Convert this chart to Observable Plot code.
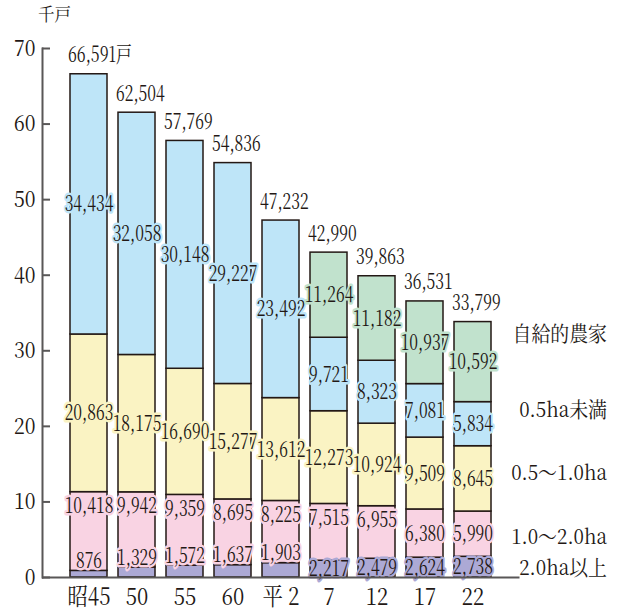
<!DOCTYPE html>
<html><head><meta charset="utf-8">
<script src="https://cdn.jsdelivr.net/npm/d3@7"></script>
<script src="https://cdn.jsdelivr.net/npm/@observablehq/plot@0.6"></script>
<style>body{margin:0;background:#fff} svg{display:block}</style>
</head><body><div id="chart"></div>
<script>
// ---- data ----
const years = ["昭45","50","55","60","平 2","7","12","17","22"];
const series = ["2.0ha以上","1.0～2.0ha","0.5～1.0ha","0.5ha未満","自給的農家"];
const over2 = [876,1329,1572,1637,1903,2217,2479,2624,2738];
const ha1to2 = [10418,9942,9359,8695,8225,7515,6955,6380,5990];
const ha05to1 = [20863,18175,16690,15277,13612,12273,10924,9509,8645];
const under05 = [34434,32058,30148,29227,23492,9721,8323,7081,5834];
const selfSupply = [null,null,null,null,null,11264,11182,10937,10592];
const totals = [66591,62504,57769,54836,47232,42990,39863,36531,33799];
const yTicks = [0,10,20,30,40,50,60,70];
const unitLabel = "千戸";
const totalUnit = "戸";

// ---- styles ----
const colors = ["#aca9d5","#f9d3e3","#faf3c3","#bee5f8","#c1e2cd"];
const ink = "#231815";
const axisGray = "#595757";
const fontFamily = "'Noto Serif CJK JP','Liberation Serif',serif";

const fmt = d3.format(",");
const valueSeries = [over2, ha1to2, ha05to1, under05, selfSupply];
const rows = [];
const tops = [];
years.forEach((yr, i) => {
  let acc = 0;
  valueSeries.forEach((arr, s) => {
    const v = arr[i];
    if (v == null) return;
    rows.push({year: yr, series: series[s], s, value: v, y1: acc / 1000, y2: (acc + v) / 1000});
    acc += v;
  });
  tops.push({year: yr, top: acc / 1000, label: fmt(totals[i]) + (i === 0 ? totalUnit : "")});
});

// label placement groups
const lblAbove = rows.filter(r => r.s === 0 && r.value < 2000).map(r => ({...r, ly: r.y2, halo: series[1]}));
const lblTop = rows.filter(r => r.s === 1 && r.value > 6500).map(r => ({...r, ly: r.y2, halo: r.series}));
const lblMid = rows.filter(r => !((r.s === 0 && r.value < 2000) || (r.s === 1 && r.value > 6500)))
  .map(r => ({...r, ly: (r.y1 + r.y2) / 2, halo: r.series}));

const lastYear = years[years.length - 1];
const lastRows = rows.filter(r => r.year === lastYear);
const legendNudge = [1, 3, -6, -14, -28];

const labelOpts = {x: "year", y: "ly", text: d => fmt(d.value), fill: ink, stroke: "halo",
  strokeWidth: 5, strokeLinejoin: "round", paintOrder: "stroke", fontSize: 22, fontFamily};

const chart = Plot.plot({
  width: 625, height: 611,
  marginLeft: 42, marginRight: 105.5, marginTop: 48, marginBottom: 34,
  style: {color: ink, background: "#fff", fontFamily},
  x: {domain: years, paddingInner: 0.235, paddingOuter: 0.49, label: null},
  y: {domain: [0, 70], label: null},
  color: {domain: series, range: colors},
  marks: [
    Plot.barY(rows, {x: "year", y1: "y1", y2: "y2", fill: "series", stroke: ink, strokeWidth: 1.5}),
    Plot.text(lblMid, labelOpts),
    Plot.text(lblAbove, {...labelOpts, dy: -10}),
    Plot.text(lblTop, {...labelOpts, dy: 14}),
    Plot.text(tops, {x: "year", y: "top", text: "label", textAnchor: "start", dx: -21, dy: -19, fill: ink, fontSize: 22, fontFamily}),
    ...lastRows.map(r => Plot.text([r], {x: "year", y: d => (d.y1 + d.y2) / 2, text: "series", textAnchor: "end",
      dx: 134, dy: legendNudge[r.s], fill: ink, fontSize: 21, fontFamily})),
    Plot.text([unitLabel], {frameAnchor: "top-left", textAnchor: "middle", lineAnchor: "middle", dx: 12, dy: -33, fill: ink, fontSize: 18, fontFamily}),
    Plot.frame({anchor: "left", stroke: axisGray, strokeWidth: 2}),
    Plot.ruleY([0], {stroke: axisGray, strokeWidth: 2}),
    Plot.axisY(yTicks, {tickSize: -8, fill: "none", stroke: axisGray, strokeWidth: 2, label: null}),
    Plot.axisY(yTicks, {tickSize: -8, tickPadding: 15, stroke: "none", fill: ink, fontSize: 23, fontFamily, label: null}),
    Plot.axisX({tickSize: 0, tickPadding: 10, fill: ink, fontSize: 24, fontFamily, label: null})
  ]
});
document.getElementById("chart").appendChild(chart);

// condensed type, like the reference
const squeeze = {"22px": 0.72, "23px": 0.85, "24px": 0.85, "21px": 0.9, "18px": 0.92};
chart.querySelectorAll("text").forEach(t => {
  t.style.setProperty("font-family", fontFamily, "important");
  const s = squeeze[getComputedStyle(t).fontSize];
  if (!s) return;
  const x = +t.getAttribute("x") || 0, y = +t.getAttribute("y") || 0;
  const T = t.getAttribute("transform") || "";
  t.setAttribute("transform", `${T} translate(${x},${y}) scale(${s},1) translate(${-x},${-y})`);
});
</script>
</body></html>
